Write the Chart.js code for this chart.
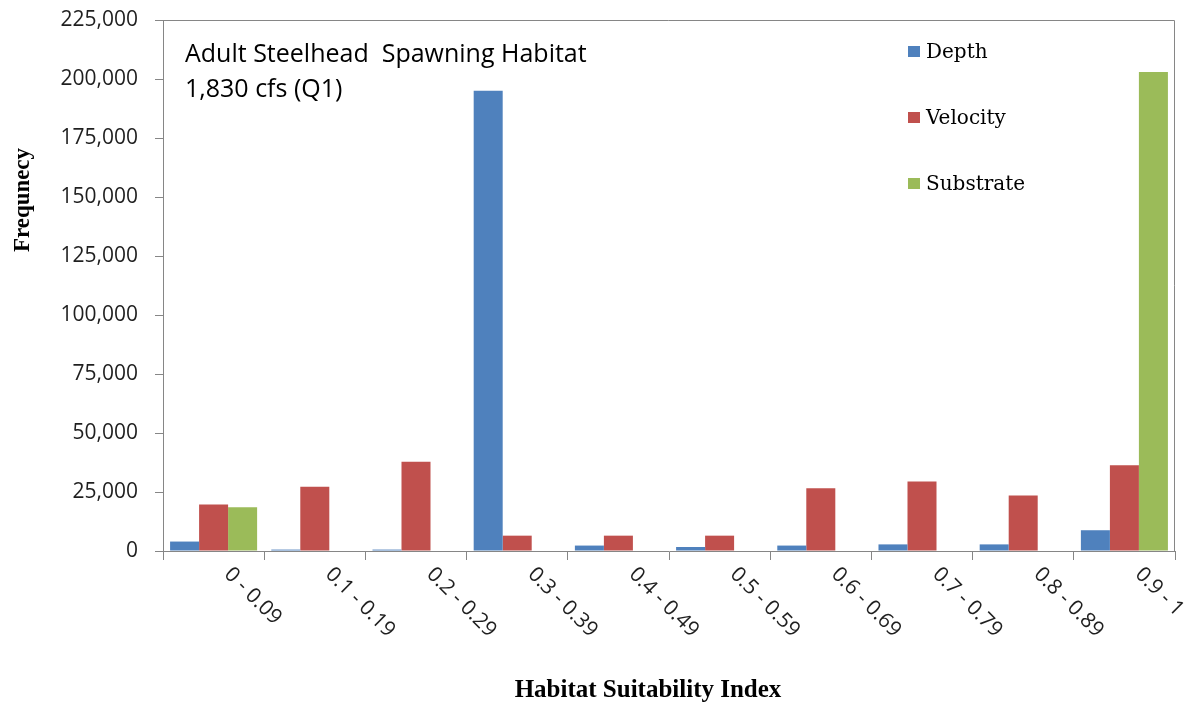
<!DOCTYPE html>
<html>
<head>
<meta charset="utf-8">
<script src="https://cdn.jsdelivr.net/npm/chart.js"></script>
<style>
  body { margin: 0; background: #fff; }
  canvas { display: block; }
</style>
</head>
<body>
<canvas id="hsiChart" width="1194" height="705"></canvas>
<script>
const categories = ['0 - 0.09', '0.1 - 0.19', '0.2 - 0.29', '0.3 - 0.39', '0.4 - 0.49',
  '0.5 - 0.59', '0.6 - 0.69', '0.7 - 0.79', '0.8 - 0.89', '0.9 - 1'];
const depth = [4000, 600, 600, 195000, 2300, 1700, 2300, 2800, 2800, 8800];
const velocity = [19700, 27200, 37800, 6500, 6500, 6500, 26600, 29400, 23500, 36300];
const substrate = [18500, 0, 0, 0, 0, 0, 0, 0, 0, 203000];
const yTicks = [0, 25000, 50000, 75000, 100000, 125000, 150000, 175000, 200000, 225000];

const annotation = ['Adult Steelhead  Spawning Habitat', '1,830 cfs (Q1)'];
const axisGray = '#868686';

// legend, titles, rotated labels and the top/right frame
const decor = {
  id: 'decor',
  afterDraw(chart) {
    const { ctx, chartArea: a, scales: { x } } = chart;
    ctx.save();

    ctx.strokeStyle = axisGray;
    ctx.lineWidth = 1;
    ctx.beginPath();
    ctx.moveTo(a.left, a.top + 0.5);
    ctx.lineTo(a.right - 0.5, a.top + 0.5);
    ctx.lineTo(a.right - 0.5, a.bottom);
    ctx.stroke();

    ctx.fillStyle = '#1f1f1f';
    ctx.font = '21px "Open Sans"';
    ctx.textAlign = 'left';
    ctx.textBaseline = 'middle';
    categories.forEach((c, i) => {
      const px = x.getPixelForTick(i);
      ctx.save();
      ctx.translate(px + 14, 571);
      ctx.rotate(Math.PI / 4);
      ctx.fillText(c, 0, 0);
      ctx.restore();
    });

    ctx.fillStyle = '#000';
    ctx.textBaseline = 'alphabetic';
    ctx.font = '25px "Open Sans"';
    ctx.fillText(annotation[0], 185, 62);
    ctx.fillText(annotation[1], 185, 97);

    ctx.font = '20px "DejaVu Serif"';
    chart.data.datasets.forEach((ds, i) => {
      const y = 46 + i * 66;
      ctx.fillStyle = ds.backgroundColor;
      ctx.fillRect(908, y, 12, 11);
      ctx.fillStyle = '#000';
      ctx.fillText(ds.label, 926, y + 12);
    });

    ctx.font = 'bold 25px "Liberation Serif"';
    ctx.textAlign = 'center';
    ctx.fillText('Habitat Suitability Index', 648, 697, 268);

    ctx.save();
    ctx.translate(29, 200);
    ctx.rotate(-Math.PI / 2);
    ctx.font = 'bold 23px "Liberation Serif"';
    ctx.fillText('Frequnecy', 0, 0, 104);
    ctx.restore();

    ctx.restore();
  }
};

new Chart(document.getElementById('hsiChart'), {
  type: 'bar',
  data: {
    labels: categories,
    datasets: [
      { label: 'Depth', data: depth, backgroundColor: '#4F81BD' },
      { label: 'Velocity', data: velocity, backgroundColor: '#C0504D' },
      { label: 'Substrate', data: substrate, backgroundColor: '#9BBB59' }
    ]
  },
  options: {
    responsive: false,
    animation: false,
    layout: { padding: { left: 0, top: 20, right: 19, bottom: 0 } },
    datasets: { bar: { categoryPercentage: 0.86, barPercentage: 1.0 } },
    plugins: {
      legend: { display: false },
      tooltip: { enabled: false }
    },
    scales: {
      x: {
        afterFit(scale) { scale.height = 154; },
        grid: { display: true, drawOnChartArea: false, tickLength: 9, color: axisGray, offset: true },
        border: { color: axisGray },
        ticks: { display: false }
      },
      y: {
        min: 0,
        max: 225000,
        afterFit(scale) {
          scale.width = 163;
          scale.paddingTop = 0;
          scale.paddingBottom = 0;
        },
        afterBuildTicks(scale) { scale.ticks = yTicks.map(v => ({ value: v })); },
        grid: { display: true, drawOnChartArea: false, tickLength: 8, color: axisGray },
        border: { color: axisGray },
        ticks: {
          padding: 17,
          color: '#1f1f1f',
          font: { family: 'Open Sans', size: 21 },
          callback: v => v.toLocaleString('en-US')
        }
      }
    }
  },
  plugins: [decor]
});
</script>
</body>
</html>
